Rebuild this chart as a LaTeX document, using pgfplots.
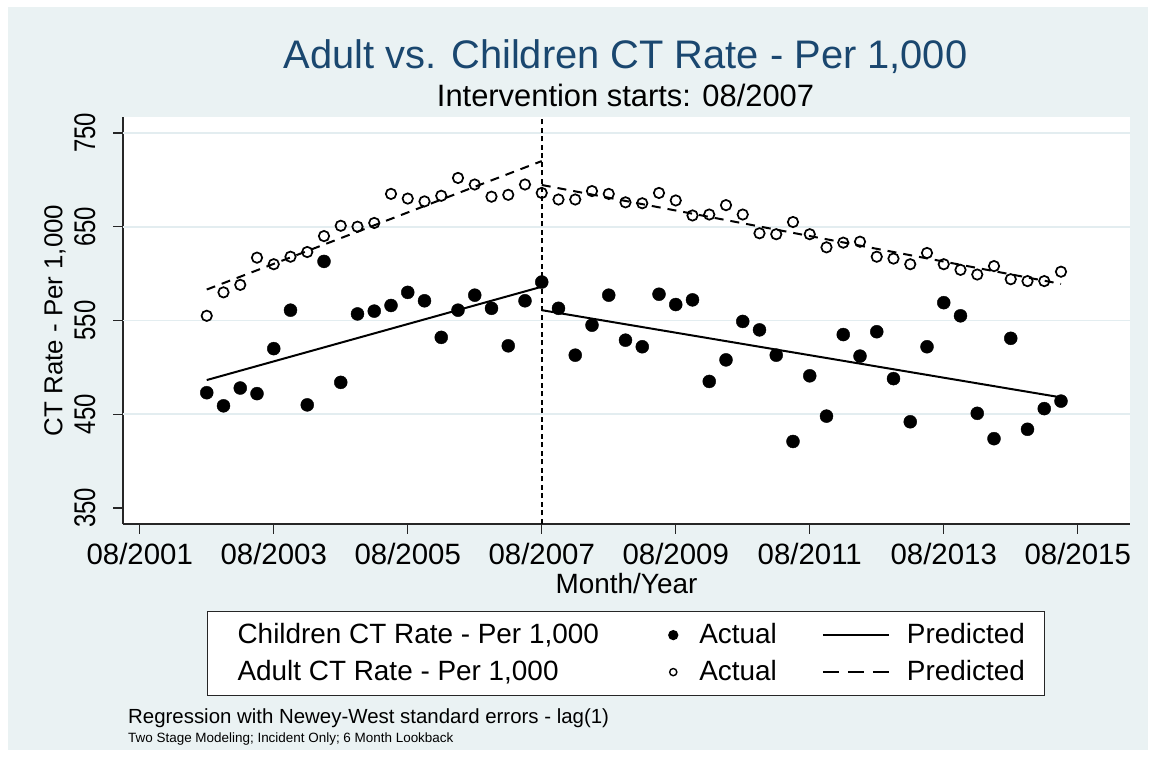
\documentclass[border=0pt]{standalone}
\usepackage{fontspec}
\setmainfont{Liberation Sans}
\newfontfamily\rotfont[FakeStretch=0.8]{Liberation Sans}
\usepackage{pgfplots}
\pgfplotsset{compat=1.18}
\definecolor{bg}{HTML}{EAF2F3}
\definecolor{gridc}{HTML}{E3EDF0}
\definecolor{navy}{HTML}{1A476F}
\begin{document}
\begin{tikzpicture}[x=1bp,y=1bp]
\fill[white] (0,0) rectangle (1156,757);
\fill[bg] (8,7) rectangle (1148,750);
\node[anchor=base, text=navy, font=\fontsize{40}{48}\selectfont] at (625.5,688) {Adult vs. Children CT Rate - Per 1,000};
\node[anchor=base, font=\fontsize{31}{36}\selectfont] at (625.5,650) {Intervention starts: 08/2007};
\node[anchor=base west, inner sep=0pt, font=\fontsize{20.5}{24}\selectfont] at (128,33) {Regression with Newey-West standard errors - lag(1)};
\node[anchor=base west, inner sep=0pt, font=\fontsize{13.5}{16}\selectfont] at (128,14) {Two Stage Modeling; Incident Only; 6 Month Lookback};
\begin{axis}[
  at={(123bp,233bp)}, anchor=south west,
  width=1007bp, height=407bp, scale only axis,
  xmin=-0.25, xmax=14.78, ymin=333, ymax=767,
  axis x line*=bottom, axis y line*=left,
  axis line style={line width=1.2bp, black!85},
  axis background/.style={fill=white},
  xtick={0,2,...,14},
  xticklabels={08/2001,08/2003,08/2005,08/2007,08/2009,08/2011,08/2013,08/2015},
  ytick={350,450,550,650,750},
  /pgf/number format/assume math mode=true,
  tick align=outside, major tick length=10bp,
  tick style={line width=1.2bp, black!85},
  xticklabel style={font=\fontsize{29.5}{33}\selectfont, anchor=base, inner sep=0pt, yshift=-31bp},
  yticklabel style={font=\rotfont\fontsize{30}{34}\selectfont, rotate=90, anchor=base, inner sep=0pt, yshift=18bp},
  xlabel={Month/Year},
  xlabel style={font=\fontsize{28}{32}\selectfont, at={(axis description cs:0.5,-0.1460)}, anchor=center, inner sep=0pt},
  ylabel={CT Rate - Per 1,000},
  ylabel style={font=\fontsize{26}{30}\selectfont, at={(axis description cs:-0.0675,0.5)}, anchor=center, inner sep=0pt, rotate=0},
  clip=false,
  legend columns=3,
  legend cell align=left,
  legend style={at={(axis description cs:0.08342,-0.2138)}, anchor=north west,
    draw=black!85, line width=1.2bp, fill=white, inner xsep=20bp, inner ysep=10.5bp,
    font=\fontsize{28}{32}\selectfont, /tikz/column sep=0pt, /tikz/row sep=11bp,
    nodes={inner xsep=0pt, inner ysep=0pt, text height=21bp, text depth=5bp}},
]
% grid lines
\foreach \yy in {450,550,650,750} {
  \edef\tmp{\noexpand\draw[gridc, line width=1.6bp] (axis cs:-0.25,\yy) -- (axis cs:14.78,\yy);}
  \tmp
}
% intervention line
\draw[black, line width=1.8bp, dash pattern=on 5bp off 3.5bp] (axis cs:6,333) -- (axis cs:6,767);

% predicted lines
\addplot[forget plot, black, line width=2bp] coordinates {(1,486.5) (6,586)};
\addplot[forget plot, black, line width=2bp] coordinates {(6,561) (13.75,468)};
\addplot[forget plot, black, line width=2bp, dash pattern=on 9bp off 7bp] coordinates {(1,583) (6,720)};
\addplot[forget plot, black, line width=2bp, dash pattern=on 9bp off 7bp] coordinates {(6,694.5) (13.75,589)};

% children actual
\addplot[forget plot, only marks, mark=*, mark size=6.5bp, mark options={fill=black, draw=black}] table {
1.00 473
1.25 459
1.50 478
1.75 472
2.00 520
2.25 561
2.50 460
2.75 613
3.00 484
3.25 557
3.50 560
3.75 566
4.00 580
4.25 571
4.50 532
4.75 561
5.00 577
5.25 563
5.50 523
5.75 571
6.00 591
6.25 563
6.50 513
6.75 545
7.00 577
7.25 529
7.50 522
7.75 578
8.00 567
8.25 572
8.50 485
8.75 508
9.00 549
9.25 540
9.50 513
9.75 421
10.00 491
10.25 448
10.50 535
10.75 512
11.00 538
11.25 488
11.50 442
11.75 522
12.00 569
12.25 555
12.50 451
12.75 424
13.00 531
13.25 434
13.50 456
13.75 464
};
% adult actual
\addplot[forget plot, only marks, mark=o, mark size=5.2bp, mark options={draw=black, line width=1.7bp, fill=none}] table {
1.00 555
1.25 580
1.50 588
1.75 617
2.00 610
2.25 618
2.50 623
2.75 640
3.00 651
3.25 650
3.50 654
3.75 685
4.00 680
4.25 677
4.50 683
4.75 702
5.00 695
5.25 682
5.50 684
5.75 695
6.00 686
6.25 679
6.50 679
6.75 688
7.00 685
7.25 676
7.50 675
7.75 686
8.00 678
8.25 662
8.50 663
8.75 673
9.00 663
9.25 643
9.50 642
9.75 655
10.00 642
10.25 628
10.50 633
10.75 634
11.00 618
11.25 616
11.50 610
11.75 622
12.00 610
12.25 604
12.50 599
12.75 608
13.00 594
13.25 592
13.50 592
13.75 602
};

% legend
\addlegendimage{legend image code/.code={\path[draw=none,fill=none] (0bp,0bp) -- (10bp,0bp);}}
\addlegendentry{Children CT Rate - Per 1,000}
\addlegendimage{legend image code/.code={\path[draw=none,fill=none] (0bp,0bp) -- (100.4bp,0bp); \fill[black] (74.4bp,0bp) circle (4.5bp);}}
\addlegendentry{Actual}
\addlegendimage{legend image code/.code={\path[draw=none,fill=none] (0bp,0bp) -- (130.2bp,0bp); \draw[black, line width=2bp, solid] (46bp,0bp) -- (112bp,0bp);}}
\addlegendentry{Predicted}
\addlegendimage{legend image code/.code={\path[draw=none,fill=none] (0bp,0bp) -- (10bp,0bp);}}
\addlegendentry{Adult CT Rate - Per 1,000}
\addlegendimage{legend image code/.code={\path[draw=none,fill=none] (0bp,0bp) -- (100.4bp,0bp); \draw[black, line width=1.4bp, solid] (74.4bp,0bp) circle (3.6bp);}}
\addlegendentry{Actual}
\addlegendimage{legend image code/.code={\path[draw=none,fill=none] (0bp,0bp) -- (130.2bp,0bp); \draw[black, line width=2bp, dash pattern=on 16bp off 9bp] (46bp,0bp) -- (112bp,0bp);}}
\addlegendentry{Predicted}
\end{axis}
\end{tikzpicture}
\end{document}
